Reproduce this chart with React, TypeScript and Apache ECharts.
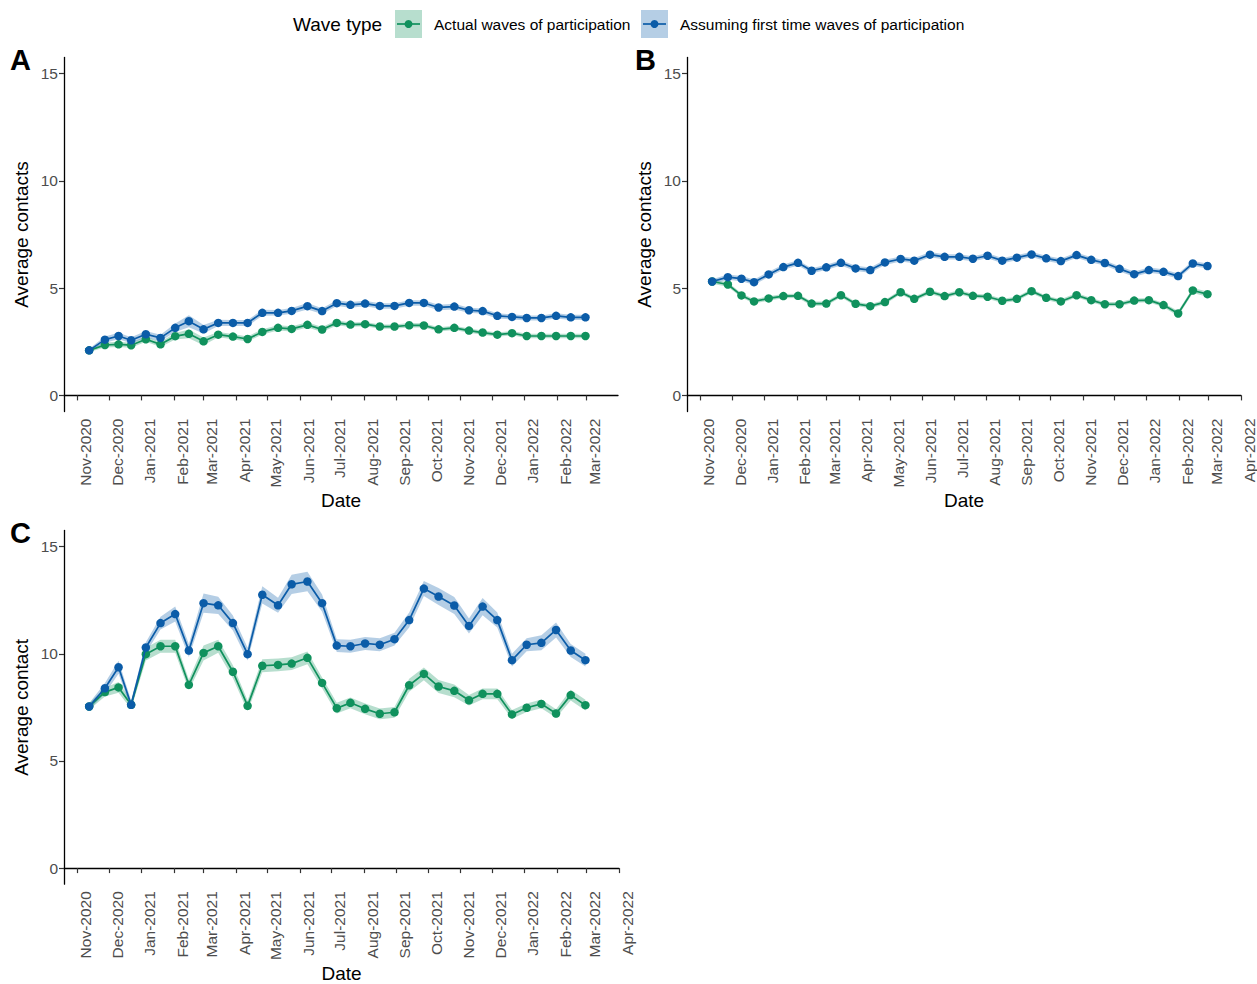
import React, { useEffect, useRef } from "react";
import * as echarts from "echarts";

// ---------------- data ----------------
const waveDates = [
  "2020-11-12", "2020-11-27", "2020-12-10", "2020-12-22", "2021-01-05", "2021-01-19", "2021-02-02",
  "2021-02-15", "2021-03-01", "2021-03-15", "2021-03-29", "2021-04-12", "2021-04-26", "2021-05-11",
  "2021-05-24", "2021-06-08", "2021-06-22", "2021-07-06", "2021-07-19", "2021-08-02", "2021-08-16",
  "2021-08-30", "2021-09-13", "2021-09-27", "2021-10-11", "2021-10-26", "2021-11-09", "2021-11-22",
  "2021-12-06", "2021-12-20", "2022-01-03", "2022-01-17", "2022-01-31", "2022-02-14", "2022-02-28",
];

const monthTicks = [
  "2020-11-01", "2020-12-01", "2021-01-01", "2021-02-01", "2021-03-01", "2021-04-01", "2021-05-01",
  "2021-06-01", "2021-07-01", "2021-08-01", "2021-09-01", "2021-10-01", "2021-11-01", "2021-12-01",
  "2022-01-01", "2022-02-01", "2022-03-01", "2022-04-01",
];
const yTicks = [0, 5, 10, 15];

const seriesNames = ["Actual waves of participation", "Assuming first time waves of participation"];
const legendTitle = "Wave type";

// Panel A
const aActual = [2.10, 2.35, 2.38, 2.34, 2.62, 2.38, 2.76, 2.87, 2.52, 2.83, 2.74, 2.63, 2.96, 3.15, 3.10, 3.29, 3.07, 3.38, 3.30, 3.32, 3.21, 3.21, 3.27, 3.26, 3.08, 3.15, 3.02, 2.93, 2.83, 2.90, 2.77, 2.77, 2.77, 2.77, 2.77];
const aActualCI = [0.08, 0.12, 0.12, 0.12, 0.12, 0.12, 0.15, 0.2, 0.18, 0.12, 0.12, 0.12, 0.12, 0.12, 0.12, 0.12, 0.12, 0.12, 0.1, 0.1, 0.1, 0.1, 0.1, 0.1, 0.1, 0.1, 0.1, 0.1, 0.1, 0.1, 0.1, 0.1, 0.1, 0.1, 0.1];
const aFirst = [2.10, 2.60, 2.77, 2.57, 2.85, 2.68, 3.15, 3.46, 3.08, 3.38, 3.38, 3.38, 3.85, 3.85, 3.94, 4.16, 3.93, 4.30, 4.22, 4.28, 4.17, 4.17, 4.31, 4.31, 4.10, 4.14, 3.97, 3.93, 3.71, 3.66, 3.61, 3.61, 3.71, 3.64, 3.64];
const aFirstCI = [0.08, 0.15, 0.15, 0.14, 0.15, 0.15, 0.2, 0.28, 0.2, 0.15, 0.14, 0.14, 0.14, 0.13, 0.13, 0.15, 0.13, 0.13, 0.13, 0.13, 0.13, 0.13, 0.13, 0.13, 0.13, 0.13, 0.12, 0.12, 0.12, 0.12, 0.12, 0.12, 0.12, 0.12, 0.12];

// Panel B
const bActual = [5.31, 5.17, 4.66, 4.38, 4.52, 4.63, 4.64, 4.28, 4.28, 4.67, 4.27, 4.16, 4.35, 4.81, 4.50, 4.83, 4.63, 4.81, 4.64, 4.60, 4.41, 4.50, 4.86, 4.55, 4.38, 4.67, 4.44, 4.25, 4.25, 4.42, 4.44, 4.21, 3.82, 4.89, 4.72];
const bActualCI = [0.1, 0.1, 0.1, 0.1, 0.1, 0.1, 0.1, 0.1, 0.1, 0.1, 0.1, 0.1, 0.1, 0.1, 0.1, 0.1, 0.1, 0.1, 0.1, 0.1, 0.1, 0.1, 0.1, 0.1, 0.1, 0.1, 0.1, 0.1, 0.1, 0.1, 0.1, 0.1, 0.12, 0.12, 0.12];
const bFirst = [5.31, 5.51, 5.44, 5.28, 5.64, 5.98, 6.18, 5.81, 5.97, 6.18, 5.92, 5.84, 6.20, 6.36, 6.28, 6.56, 6.46, 6.46, 6.37, 6.51, 6.28, 6.42, 6.57, 6.39, 6.26, 6.54, 6.32, 6.17, 5.90, 5.65, 5.84, 5.76, 5.56, 6.15, 6.03];
const bFirstCI = [0.1, 0.12, 0.12, 0.12, 0.12, 0.12, 0.12, 0.12, 0.12, 0.12, 0.12, 0.12, 0.12, 0.12, 0.12, 0.12, 0.12, 0.12, 0.12, 0.12, 0.12, 0.12, 0.12, 0.12, 0.12, 0.12, 0.12, 0.12, 0.12, 0.12, 0.12, 0.12, 0.12, 0.12, 0.12];

// Panel C
const cActual = [7.54, 8.21, 8.43, 7.62, 9.98, 10.35, 10.35, 8.55, 10.04, 10.35, 9.16, 7.57, 9.44, 9.48, 9.54, 9.81, 8.64, 7.46, 7.71, 7.43, 7.20, 7.27, 8.53, 9.06, 8.47, 8.27, 7.83, 8.13, 8.13, 7.17, 7.48, 7.66, 7.21, 8.07, 7.60];
const cActualCI = [0.15, 0.2, 0.25, 0.2, 0.3, 0.3, 0.3, 0.25, 0.35, 0.3, 0.3, 0.25, 0.3, 0.3, 0.3, 0.3, 0.25, 0.25, 0.25, 0.25, 0.25, 0.25, 0.3, 0.3, 0.3, 0.3, 0.25, 0.25, 0.25, 0.2, 0.2, 0.2, 0.2, 0.25, 0.25];
const cFirst = [7.54, 8.39, 9.37, 7.62, 10.29, 11.43, 11.85, 10.15, 12.36, 12.26, 11.43, 9.98, 12.75, 12.26, 13.24, 13.37, 12.36, 10.38, 10.35, 10.48, 10.42, 10.68, 11.57, 13.04, 12.67, 12.25, 11.30, 12.20, 11.57, 9.70, 10.42, 10.51, 11.11, 10.15, 9.70];
const cFirstCI = [0.15, 0.25, 0.3, 0.2, 0.25, 0.3, 0.35, 0.3, 0.45, 0.4, 0.35, 0.3, 0.4, 0.35, 0.45, 0.45, 0.4, 0.3, 0.3, 0.3, 0.3, 0.3, 0.35, 0.35, 0.4, 0.4, 0.35, 0.4, 0.35, 0.3, 0.3, 0.35, 0.35, 0.3, 0.3];

// ---------------- styling ----------------
const GREEN = "#10915d";
const BLUE = "#0b5ca8";
const GREEN_FILL = "rgba(16,145,93,0.3)";
const BLUE_FILL = "rgba(11,92,168,0.3)";
const FONT = "'Liberation Sans', Arial, Helvetica, sans-serif";
const MONTHS = ["Jan", "Feb", "Mar", "Apr", "May", "Jun", "Jul", "Aug", "Sep", "Oct", "Nov", "Dec"];

const ts = (s: string) => {
  const [y, m, d] = s.split("-").map(Number);
  return Date.UTC(y, m - 1, d);
};

const panels = [
  { key: "A", actual: aActual, actualCI: aActualCI, first: aFirst, firstCI: aFirstCI, yName: "Average contacts",
    grid: { left: 64, top: 57.5, width: 554, height: 354 }, xMin: "2020-10-19", xMax: "2022-03-31", letter: { x: 10, y: 74 } },
  { key: "B", actual: bActual, actualCI: bActualCI, first: bFirst, firstCI: bFirstCI, yName: "Average contacts",
    grid: { left: 687, top: 57.5, width: 555, height: 354 }, xMin: "2020-10-19", xMax: "2022-04-01", letter: { x: 635, y: 74 } },
  { key: "C", actual: cActual, actualCI: cActualCI, first: cFirst, firstCI: cFirstCI, yName: "Average contact",
    grid: { left: 64, top: 530.5, width: 555, height: 354 }, xMin: "2020-10-19", xMax: "2022-04-01", letter: { x: 10, y: 547 } },
];

function ribbonSeries(idx: number, mean: number[], half: number[], fill: string) {
  const xs = waveDates.map(ts);
  return {
    type: "custom",
    xAxisIndex: idx,
    yAxisIndex: idx,
    silent: true,
    z: 1,
    encode: { x: 0, y: [1, 2] },
    data: xs.map((x, i) => [x, mean[i] - half[i], mean[i] + half[i]]),
    renderItem: (params: any, api: any) => {
      if (params.dataIndex !== 0) return null;
      const upper = xs.map((x, i) => api.coord([x, mean[i] + half[i]]));
      const lower = xs.map((x, i) => api.coord([x, mean[i] - half[i]])).reverse();
      return {
        type: "polygon",
        shape: { points: upper.concat(lower) },
        style: { fill, stroke: "none" },
      };
    },
  };
}

function lineSeries(idx: number, name: string, vals: number[], color: string, z: number) {
  return {
    type: "line",
    name,
    xAxisIndex: idx,
    yAxisIndex: idx,
    z,
    data: waveDates.map((d, i) => [ts(d), vals[i]]),
    symbol: "circle",
    symbolSize: 8.5,
    showSymbol: true,
    lineStyle: { color, width: 1.7 },
    itemStyle: { color, borderWidth: 0 },
    silent: true,
  };
}

export default function App() {
  const ref = useRef<HTMLDivElement>(null);

  useEffect(() => {
    if (!ref.current) return;
    const chart = echarts.init(ref.current, undefined, { renderer: "svg" });

    const grids: any[] = [];
    const xAxes: any[] = [];
    const yAxes: any[] = [];
    const series: any[] = [];
    const graphics: any[] = [];

    panels.forEach((p, idx) => {
      grids.push({ ...p.grid, containLabel: false });
      const maxTs = ts(p.xMax);
      const ticks = monthTicks.map(ts).filter((t) => t <= maxTs);
      xAxes.push({
        type: "value",
        gridIndex: idx,
        min: ts(p.xMin),
        max: maxTs,
        name: "Date",
        nameLocation: "middle",
        nameGap: 79,
        nameTextStyle: { fontFamily: FONT, fontSize: 19, color: "#000" },
        axisLine: { show: true, lineStyle: { color: "#000", width: 1.3 } },
        axisTick: { show: true, length: 5, lineStyle: { color: "#333", width: 1.2 }, customValues: ticks },
        axisLabel: {
          show: true,
          rotate: 90,
          margin: 7,
          verticalAlign: "top",
          color: "#4d4d4d",
          fontFamily: FONT,
          fontSize: 15.5,
          customValues: ticks,
          formatter: (v: number) => {
            const d = new Date(v);
            return MONTHS[d.getUTCMonth()] + "-" + d.getUTCFullYear();
          },
        },
        splitLine: { show: false },
      });
      yAxes.push({
        type: "value",
        gridIndex: idx,
        min: -0.75,
        max: 15.75,
        name: p.yName,
        nameLocation: "middle",
        nameRotate: 90,
        nameGap: 33,
        nameTextStyle: { fontFamily: FONT, fontSize: 19, color: "#000" },
        axisLine: { show: true, lineStyle: { color: "#000", width: 1.3 } },
        axisTick: { show: true, length: 5, lineStyle: { color: "#333", width: 1.2 }, customValues: yTicks },
        axisLabel: {
          show: true,
          margin: 6,
          color: "#4d4d4d",
          fontFamily: FONT,
          fontSize: 15.5,
          customValues: yTicks,
        },
        splitLine: { show: false },
      });
      series.push(ribbonSeries(idx, p.actual, p.actualCI, GREEN_FILL));
      series.push(ribbonSeries(idx, p.first, p.firstCI, BLUE_FILL));
      series.push(lineSeries(idx, seriesNames[0], p.actual, GREEN, 3));
      series.push(lineSeries(idx, seriesNames[1], p.first, BLUE, 4));
      graphics.push({
        type: "text",
        x: p.letter.x,
        y: p.letter.y,
        style: { text: p.key, font: `bold 29px ${FONT}`, fill: "#000", textVerticalAlign: "bottom" },
      });
    });

    // legend (ggplot style)
    const legendY = 24;
    const keys = [
      { x: 395, fill: "rgba(16,145,93,0.3)", color: GREEN, label: seriesNames[0], tx: 434 },
      { x: 641, fill: "rgba(11,92,168,0.3)", color: BLUE, label: seriesNames[1], tx: 680 },
    ];
    graphics.push({
      type: "text",
      x: 293,
      y: legendY,
      style: { text: legendTitle, font: `19px ${FONT}`, fill: "#000", textVerticalAlign: "middle" },
    });
    keys.forEach((k) => {
      graphics.push({ type: "rect", shape: { x: k.x, y: 10, width: 27, height: 28 }, style: { fill: k.fill } });
      graphics.push({ type: "line", shape: { x1: k.x + 2, y1: legendY, x2: k.x + 25, y2: legendY }, style: { stroke: k.color, lineWidth: 1.7 } });
      graphics.push({ type: "circle", shape: { cx: k.x + 13.5, cy: legendY, r: 4 }, style: { fill: k.color } });
      graphics.push({
        type: "text",
        x: k.tx,
        y: legendY,
        style: { text: k.label, font: `15.5px ${FONT}`, fill: "#000", textVerticalAlign: "middle" },
      });
    });

    chart.setOption({
      animation: false,
      backgroundColor: "#fff",
      textStyle: { fontFamily: FONT },
      grid: grids,
      xAxis: xAxes,
      yAxis: yAxes,
      series,
      graphic: graphics,
    });

    return () => chart.dispose();
  }, []);

  return (
    <div
      ref={ref}
      style={{ position: "absolute", left: 0, top: 0, width: 1257, height: 984, background: "#fff" }}
    />
  );
}
